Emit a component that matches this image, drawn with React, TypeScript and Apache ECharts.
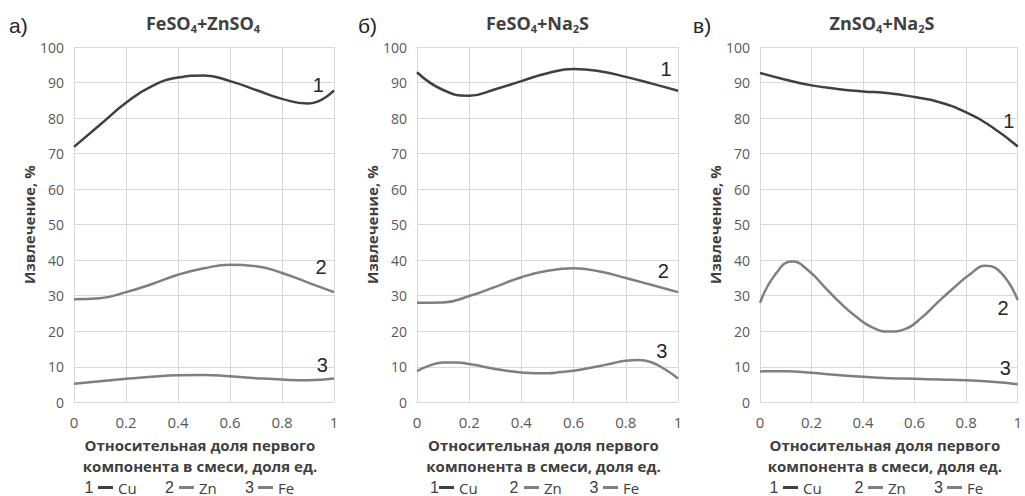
import React, { useEffect, useRef } from "react";
import * as echarts from "echarts";

// ---- Data ----
const X10 = [0, 0.1, 0.2, 0.3, 0.4, 0.5, 0.6, 0.7, 0.8, 0.9, 1];
const X20 = [0, 0.05, 0.1, 0.15, 0.2, 0.25, 0.3, 0.35, 0.4, 0.45, 0.5, 0.55, 0.6, 0.65, 0.7, 0.75, 0.8, 0.85, 0.9, 0.95, 1];
const X16 = [0, 0.0625, 0.125, 0.1875, 0.25, 0.3125, 0.375, 0.4375, 0.5, 0.5625, 0.625, 0.6875, 0.75, 0.8125, 0.875, 0.9375, 1];

// Panel а) FeSO4+ZnSO4
const A_CU = [71.9, 78.1, 84.3, 89, 91.4, 92, 90.4, 87.9, 85.4, 84.1, 87.8];
const A_ZN = [29, 29.3, 31, 33.3, 35.9, 37.7, 38.7, 38.3, 36.4, 33.7, 31];
const A_FE = [5.2, 5.9, 6.6, 7.2, 7.6, 7.7, 7.3, 6.8, 6.4, 6.2, 6.7];

// Panel б) FeSO4+Na2S
const B_CU = [92.9, 87.9, 86.3, 88.1, 90.4, 92.6, 93.8, 93.2, 91.6, 89.7, 87.7];
const B_ZN = [28, 28.1, 29.9, 32.5, 35.2, 37, 37.7, 36.8, 35, 33, 31];
const B_FE = [8.8, 10.4, 11.2, 11.2, 10.8, 10.1, 9.4, 8.8, 8.4, 8.2, 8.2, 8.5, 8.9, 9.5, 10.2, 11, 11.7, 11.9, 11.2, 9.3, 6.7];

// Panel в) ZnSO4+Na2S
const C_CU = [92.7, 90.8, 89.2, 88.2, 87.5, 87, 85.9, 84.4, 81.6, 77.5, 72];
const C_ZN = [28, 36.3, 39.6, 37.1, 32.5, 27.9, 24, 21, 19.9, 20.6, 23.7, 28, 32.1, 35.9, 38.4, 36.3, 28.8];
const C_FE = [8.7, 8.75, 8.3, 7.7, 7.2, 6.8, 6.6, 6.4, 6.2, 5.8, 5.1];

// Curve number labels, [x, y] in data units
const A_LABELS = [[0.94, 89.3], [0.95, 38], [0.955, 10.5]];
const B_LABELS = [[0.954, 93.7], [0.944, 37], [0.938, 14.5]];
const C_LABELS = [[0.965, 79.3], [0.943, 26.5], [0.952, 9.6]];

const SERIES_NAMES = ["Cu", "Zn", "Fe"];
const SERIES_NUMS = ["1", "2", "3"];
const PANEL_LETTERS = ["а)", "б)", "в)"];
const TITLES = [
  "FeSO{sub|4}+ZnSO{sub|4}",
  "FeSO{sub|4}+Na{sub|2}S",
  "ZnSO{sub|4}+Na{sub|2}S",
];
const X_NAME = "Относительная доля первого\nкомпонента в смеси, доля ед.";
const Y_NAME = "Извлечение, %";

const COLORS = ["#404040", "#7f7f7f", "#7f7f7f"];
const FONT = "'Open Sans', 'DejaVu Sans', sans-serif";
const NUM_FONT = "'Liberation Sans', Arial, sans-serif";

function pairs(xs: number[], ys: number[]) {
  return xs.map((x, i) => [x, ys[i]]);
}

const PANELS = [
  {
    left: 74, width: 260, titleX: 203, letterX: 9,
    data: [pairs(X10, A_CU), pairs(X10, A_ZN), pairs(X10, A_FE)],
    labels: A_LABELS,
    legendIcons: [98, 179, 258], legendNums: [89, 169.5, 249.5],
  },
  {
    left: 417, width: 261, titleX: 537.5, letterX: 358,
    data: [pairs(X10, B_CU), pairs(X10, B_ZN), pairs(X20, B_FE)],
    labels: B_LABELS,
    legendIcons: [439, 524, 603], legendNums: [434.5, 514, 594],
  },
  {
    left: 760, width: 259, titleX: 882, letterX: 693,
    data: [pairs(X10, C_CU), pairs(X16, C_ZN), pairs(X10, C_FE)],
    labels: C_LABELS,
    legendIcons: [783, 868, 947], legendNums: [774, 859, 938.5],
  },
];

const GRID_TOP = 47;
const GRID_HEIGHT = 355.3;
const LINE_GRAY = "#d9d9d9";

export default function App() {
  const ref = useRef<HTMLDivElement>(null);

  useEffect(() => {
    if (!ref.current) return;
    const chart = echarts.init(ref.current, null, { renderer: "svg" });

    const grid: any[] = [];
    const xAxis: any[] = [];
    const yAxis: any[] = [];
    const series: any[] = [];
    const title: any[] = [];
    const legend: any[] = [];
    const graphic: any[] = [];

    PANELS.forEach((p, pi) => {
      grid.push({ left: p.left, top: GRID_TOP, width: p.width, height: GRID_HEIGHT, containLabel: false });
      xAxis.push({
        type: "value",
        gridIndex: pi,
        min: 0,
        max: 1,
        interval: 0.2,
        axisLine: { show: true, lineStyle: { color: LINE_GRAY, width: 1 } },
        axisTick: { show: false },
        splitLine: { show: true, lineStyle: { color: LINE_GRAY, width: 1 } },
        axisLabel: { color: "#595959", fontSize: 15, fontFamily: FONT, margin: 12 },
        name: X_NAME,
        nameLocation: "middle",
        nameGap: 32,
        nameTextStyle: {
          fontSize: 15, fontWeight: "bold", color: "#404040", fontFamily: FONT,
          lineHeight: 21, padding: [0, 8, 0, 0],
        },
      });
      yAxis.push({
        type: "value",
        gridIndex: pi,
        min: 0,
        max: 100,
        interval: 10,
        axisLine: { show: true, lineStyle: { color: LINE_GRAY, width: 1 } },
        axisTick: { show: false },
        splitLine: { show: true, lineStyle: { color: LINE_GRAY, width: 1 } },
        axisLabel: { color: "#595959", fontSize: 14, fontFamily: FONT, margin: 10 },
        name: Y_NAME,
        nameLocation: "middle",
        nameGap: 33,
        nameTextStyle: { fontSize: 15, fontWeight: "bold", color: "#404040", fontFamily: FONT },
      });
      p.data.forEach((d, si) => {
        series.push({
          type: "line",
          name: SERIES_NAMES[si],
          xAxisIndex: pi,
          yAxisIndex: pi,
          data: d,
          smooth: 0.5,
          showSymbol: false,
          symbol: "none",
          lineStyle: { color: COLORS[si], width: 2.5 },
          itemStyle: { color: COLORS[si] },
          markPoint: {
            symbol: "circle",
            symbolSize: 1,
            itemStyle: { color: "rgba(0,0,0,0)" },
            label: {
              show: true,
              position: "inside",
              formatter: SERIES_NUMS[si],
              fontSize: 20,
              color: "#262626",
              fontFamily: NUM_FONT,
            },
            data: [{ coord: p.labels[si] }],
          },
        });
        legend.push({
          left: p.legendIcons[si],
          top: 480,
          padding: 0,
          data: [SERIES_NAMES[si]],
          icon: "rect",
          itemWidth: 15,
          itemHeight: 3,
          itemGap: 0,
          selectedMode: false,
          textStyle: { fontSize: 15, color: "#404040", fontFamily: FONT },
        });
        graphic.push({
          type: "text",
          x: p.legendNums[si],
          y: 487,
          style: {
            text: SERIES_NUMS[si],
            fontSize: 16,
            fill: "#404040",
            fontFamily: NUM_FONT,
            align: "center",
            verticalAlign: "middle",
          },
        });
      });
      title.push({
        text: TITLES[pi],
        left: p.titleX,
        top: 12,
        padding: 0,
        textAlign: "center",
        textStyle: {
          fontSize: 18,
          fontWeight: "bold",
          color: "#404040",
          fontFamily: FONT,
          lineHeight: 22,
          rich: {
            sub: { fontSize: 11, fontWeight: "bold", color: "#404040", fontFamily: FONT, lineHeight: 9, verticalAlign: "bottom" },
          },
        },
      });
      graphic.push({
        type: "text",
        x: p.letterX,
        y: 25,
        style: {
          text: PANEL_LETTERS[pi],
          fontSize: 21,
          fill: "#262626",
          fontFamily: NUM_FONT,
          align: "left",
          verticalAlign: "middle",
        },
      });
    });

    chart.setOption({
      animation: false,
      backgroundColor: "#ffffff",
      title,
      legend,
      grid,
      xAxis,
      yAxis,
      series,
      graphic,
    });

    return () => chart.dispose();
  }, []);

  return (
    <div
      ref={ref}
      style={{ position: "absolute", left: 0, top: 0, width: 1025, height: 496 }}
    />
  );
}
